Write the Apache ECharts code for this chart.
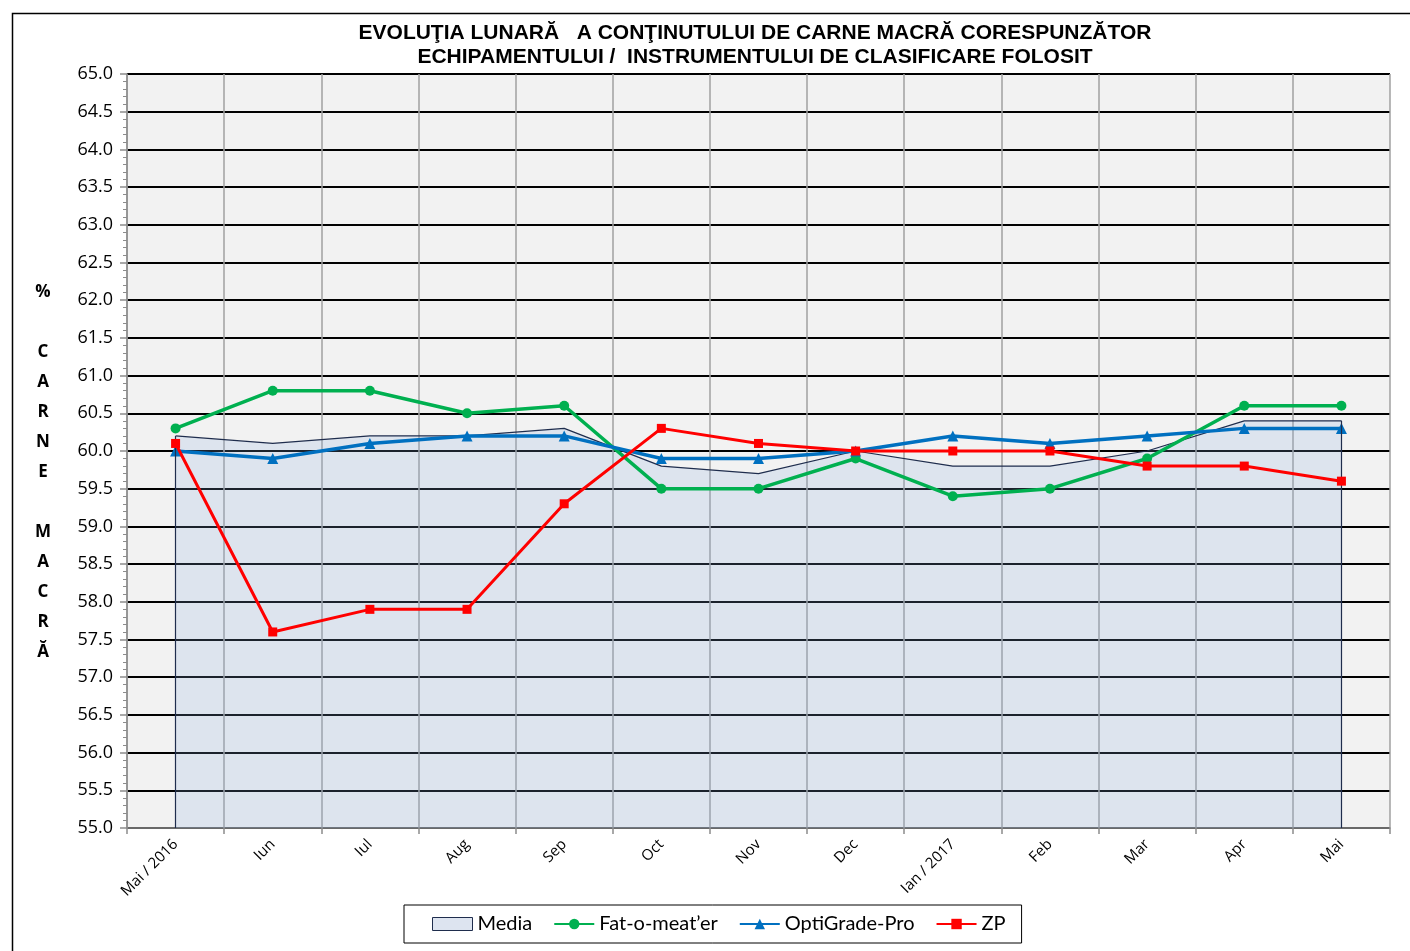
<!DOCTYPE html>
<html>
<head>
<meta charset="utf-8">
<script src="https://cdn.jsdelivr.net/npm/echarts@6/dist/echarts.min.js"></script>
<style>html,body{margin:0;padding:0;background:#fff}#c{width:1410px;height:951px}</style>
</head>
<body>
<div id="c"></div>
<script>
const categories = ['Mai / 2016','Iun','Iul','Aug','Sep','Oct','Nov','Dec','Ian / 2017','Feb','Mar','Apr','Mai'];
const media      = [60.2, 60.1, 60.2, 60.2, 60.3, 59.8, 59.7, 60.0, 59.8, 59.8, 60.0, 60.4, 60.4];
const fatOMeater = [60.3, 60.8, 60.8, 60.5, 60.6, 59.5, 59.5, 59.9, 59.4, 59.5, 59.9, 60.6, 60.6];
const optiGrade  = [60.0, 59.9, 60.1, 60.2, 60.2, 59.9, 59.9, 60.0, 60.2, 60.1, 60.2, 60.3, 60.3];
const zp         = [60.1, 57.6, 57.9, 57.9, 59.3, 60.3, 60.1, 60.0, 60.0, 60.0, 59.8, 59.8, 59.6];
const yMin = 55, yMax = 65, yStep = 0.5;
const titleLines = ['EVOLUŢIA LUNARĂ   A CONŢINUTULUI DE CARNE MACRĂ CORESPUNZĂTOR', 'ECHIPAMENTULUI /  INSTRUMENTULUI DE CLASIFICARE FOLOSIT'];
const yName = ['%','','C','A','R','N','E','','M','A','C','R','Ă'];

const chart = echarts.init(document.getElementById('c'), null, {renderer:'canvas'});
const last = categories.length - 1;
chart.setOption({
  backgroundColor: '#ffffff',
  animation: false,
  graphic: [
    {type: 'rect', left: 10, top: 11, shape: {width: 1420, height: 960}, style: {fill: 'none', stroke: '#000', lineWidth: 1.5}, silent: true},
    {type: 'text', x: 755, y: 21, style: {text: titleLines.join('\n'), fontFamily: 'Liberation Sans, Arial', fontWeight: 'bold', fontSize: 21, lineHeight: 24, align: 'center', verticalAlign: 'top', fill: '#000'}},
    {type: 'text', x: 43, y: 277, style: {text: yName.join('\n'), fontFamily: 'Open Sans, DejaVu Sans', fontWeight: 'bold', fontSize: 17, lineHeight: 30, align: 'center', verticalAlign: 'top', fill: '#000'}}
  ],
  legend: {
    left: 404, top: 905,
    padding: [9, 16, 9, 28],
    itemGap: 21,
    itemWidth: 40, itemHeight: 13,
    borderColor: '#000', borderWidth: 1,
    textStyle: {fontFamily: 'Lato, Open Sans', fontSize: 20, color: '#000'},
    data: [
      {name: 'Media', icon: 'rect', itemStyle: {color: '#dde4f0', borderColor: '#1f2d4d', borderWidth: 1}},
      {name: 'Fat-o-meat’er'},
      {name: 'OptiGrade-Pro'},
      {name: 'ZP'}
    ]
  },
  grid: {left: 127, right: 20, top: 74, bottom: 123, show: true, backgroundColor: '#f2f2f2', borderWidth: 0},
  xAxis: {
    type: 'category', data: categories, boundaryGap: true,
    axisLine: {lineStyle: {color: '#8c8c8c', width: 1.5}},
    axisTick: {show: true, length: 6, lineStyle: {color: '#8c8c8c', width: 1.5}},
    axisLabel: {rotate: 45, fontFamily: 'Open Sans, Lato', fontSize: 15, color: '#000', margin: 14, interval: 0},
    splitLine: {show: true, lineStyle: {color: '#a0a0a0', width: 1.5}}
  },
  yAxis: {
    type: 'value', min: yMin, max: yMax, interval: yStep,
    axisLine: {show: true, lineStyle: {color: '#8c8c8c', width: 1.5}},
    axisTick: {show: true, length: 7, lineStyle: {color: '#8c8c8c', width: 1.5}},
    minorTick: {show: true, splitNumber: 5, length: 4, lineStyle: {color: '#8c8c8c', width: 1}},
    axisLabel: {formatter: v => v.toFixed(1), fontFamily: 'Open Sans, Lato', fontSize: 18, color: '#000', margin: 14},
    splitLine: {show: true, lineStyle: {color: '#000', width: 2}}
  },
  series: [
    {
      name: 'Media', type: 'line', data: media, showSymbol: false, symbol: 'none',
      lineStyle: {color: '#1f2d4d', width: 1.2},
      itemStyle: {color: '#dde4f0'},
      areaStyle: {color: 'rgba(140,175,225,0.28)', origin: 'start'},
      z: 2,
      markLine: {
        silent: true, symbol: 'none', label: {show: false},
        lineStyle: {color: '#1f2d4d', width: 1.2, type: 'solid'},
        data: [
          [{coord: [0, yMin]}, {coord: [0, media[0]]}],
          [{coord: [last, yMin]}, {coord: [last, media[last]]}]
        ]
      }
    },
    {
      name: 'Fat-o-meat’er', type: 'line', data: fatOMeater,
      symbol: 'circle', symbolSize: 10,
      lineStyle: {color: '#00b050', width: 3.5}, itemStyle: {color: '#00b050'}, z: 3
    },
    {
      name: 'OptiGrade-Pro', type: 'line', data: optiGrade,
      symbol: 'triangle', symbolSize: 11,
      lineStyle: {color: '#0070c0', width: 3.5}, itemStyle: {color: '#0070c0'}, z: 4
    },
    {
      name: 'ZP', type: 'line', data: zp,
      symbol: 'rect', symbolSize: 9,
      lineStyle: {color: '#ff0000', width: 3}, itemStyle: {color: '#ff0000'}, z: 5
    }
  ]
});
</script>
</body>
</html>
